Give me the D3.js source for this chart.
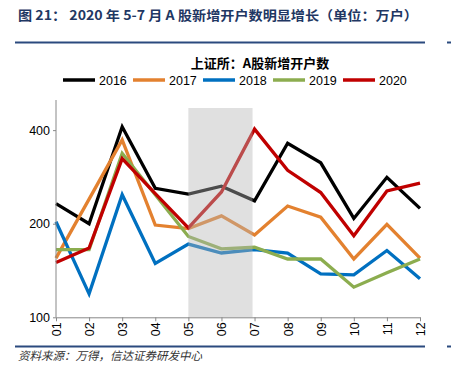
<!DOCTYPE html>
<html><head><meta charset="utf-8">
<script src="https://cdn.jsdelivr.net/npm/d3@7"></script>
<style>
html,body{margin:0;padding:0;background:#fff;}
svg{display:block;}
</style></head>
<body>
<svg id="c" width="451" height="381"></svg>
<script>
const months = ["01","02","03","04","05","06","07","08","09","10","11","12"];
const years = ["2016","2017","2018","2019","2020"];
const s2016 = [232,200,410,260,249,264,237,363,314,208,282,224];
const s2017 = [155,240,372,198,193,212,184,228,210,154,199,155];
const s2018 = [203,119,248,149,172,161,165,161,138,137,164,133];
const s2019 = [165,165,337,248,182,166,168,154,154,125,139,154];
const s2020 = [150,167,324,250,194,253,403,297,252,183,255,270];
const yTicks = [100,200,400];
const shadeRange = ["05","07"];
const colors = ["#000000","#e3812f","#0070c0","#8cad4f","#c00000"];
const seriesList = [s2016,s2017,s2018,s2019,s2020];

const svg = d3.select("#c");
const navy = "#1f3763";

// header
svg.append("text").attr("x",18).attr("y",20)
  .attr("font-family","'Noto Sans CJK SC', sans-serif").attr("font-weight","bold")
  .attr("font-size",13).attr("fill",navy)
  .attr("textLength",400).attr("lengthAdjust","spacingAndGlyphs")
  .text("图 21：  2020 年 5-7 月 A 股新增开户数明显增长（单位：万户）");
svg.append("line").attr("x1",15).attr("x2",425).attr("y1",42.5).attr("y2",42.5)
  .attr("stroke","#2b4a7e").attr("stroke-width",2);
svg.append("line").attr("x1",15).attr("x2",425).attr("y1",346.5).attr("y2",346.5)
  .attr("stroke","#2b4a7e").attr("stroke-width",2);
// cut-off neighbor column fragments
svg.append("line").attr("x1",447).attr("x2",451).attr("y1",42.5).attr("y2",42.5)
  .attr("stroke","#2b4a7e").attr("stroke-width",2);
svg.append("line").attr("x1",447).attr("x2",451).attr("y1",346.5).attr("y2",346.5)
  .attr("stroke","#2b4a7e").attr("stroke-width",2);

svg.append("text").attr("x",18).attr("y",360)
  .attr("font-family","'Noto Sans CJK SC', sans-serif").attr("font-style","italic")
  .attr("font-size",11.5).attr("fill","#333")
  .text("资料来源：万得，信达证券研发中心");

// chart title
svg.append("text").attr("x",260).attr("y",68).attr("text-anchor","middle")
  .attr("font-family","'Noto Sans CJK SC', sans-serif").attr("font-weight","bold")
  .attr("font-size",13).attr("fill","#000")
  .text("上证所：A股新增开户数");

// legend
const lg = svg.append("g");
years.forEach((yr,i)=>{
  const x0 = 63 + i*70;
  lg.append("line").attr("x1",x0).attr("x2",x0+32).attr("y1",80).attr("y2",80)
    .attr("stroke",colors[i]).attr("stroke-width",3.5);
  lg.append("text").attr("x",x0+36).attr("y",84.5)
    .attr("font-family","'Liberation Sans', Arial, sans-serif").attr("font-size",12.5)
    .attr("fill","#000").text(yr);
});

// scales
const x = d3.scalePoint().domain(months).range([56,420]);
const y = d3.scaleLog().domain([100,500]).range([317.3,100]);

// lines
const line = d3.line().x((d,i)=>x(months[i])).y(d=>y(d));
seriesList.forEach((s,i)=>{
  svg.append("path").datum(s).attr("d",line).attr("fill","none")
    .attr("stroke",colors[i]).attr("stroke-width",3.3).attr("stroke-linejoin","miter");
});

// shaded region (over lines, translucent)
svg.append("rect").attr("x",x(shadeRange[0])).attr("y",108)
  .attr("width",x(shadeRange[1])-x(shadeRange[0])-2).attr("height",y(100)-108)
  .attr("fill","#b5b5b5").attr("fill-opacity",0.42);

// axes
const axColor = "#888";
const yAxis = svg.append("g").attr("transform","translate(56,0)")
  .call(d3.axisLeft(y).tickValues(yTicks).tickFormat(d3.format("d")).tickSize(3).tickSizeOuter(0));
yAxis.select(".domain").attr("stroke",axColor).attr("d","M0,100V317.3");
yAxis.selectAll(".tick line").attr("stroke",axColor);
yAxis.selectAll(".tick text").attr("font-family","'Liberation Sans', Arial, sans-serif")
  .attr("font-size",12.5).attr("fill","#000").attr("x",-6);

const xAxis = svg.append("g").attr("transform","translate(0,317.3)")
  .call(d3.axisBottom(x).tickSize(4).tickSizeOuter(0));
xAxis.select(".domain").attr("stroke",axColor);
xAxis.selectAll(".tick line").attr("stroke",axColor);
xAxis.selectAll(".tick text").attr("font-family","'Liberation Sans', Arial, sans-serif")
  .attr("font-size",12.5).attr("fill","#000")
  .attr("transform","rotate(-90)").attr("text-anchor","end")
  .attr("x",-5).attr("y",0).attr("dy","0.35em");
</script>
</body></html>
